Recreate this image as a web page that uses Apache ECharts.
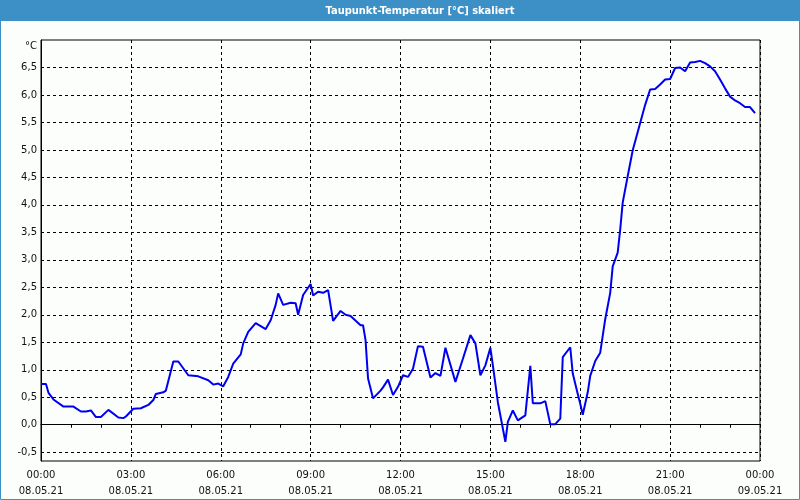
<!DOCTYPE html>
<html>
<head>
<meta charset="utf-8">
<script src="https://cdn.jsdelivr.net/npm/echarts@6/dist/echarts.min.js"></script>
<style>
html,body{margin:0;padding:0;background:#fcfefc;}
#chart{width:800px;height:500px;}
</style>
</head>
<body>
<div id="chart"></div>
<script>
// Minutes since 08.05.21 00:00
var minutes = [0,10,15,25,45,65,80,90,100,110,120,135,155,165,170,185,200,215,225,230,245,250,265,275,295,315,335,345,355,
  365,375,385,400,405,415,430,435,450,460,470,475,485,500,510,515,525,540,545,555,565,575,585,600,610,620,640,645,650,655,665,680,685,695,705,
  715,725,735,745,755,765,780,790,800,810,830,845,860,870,880,890,900,905,915,930,935,945,955,970,980,985,1000,1010,1020,1030,1040,1045,1060,1065,
  1075,1080,1085,1095,1100,1110,1120,1130,1140,1145,1155,1160,1165,1175,1185,1200,1210,1220,1230,1240,1250,1260,1270,1280,1290,1300,1310,1320,1330,1340,1350,1360,1370,1380,1390,1400,1410,1420,1430];
// Dew point temperature [°C]
var values = [0.74,0.74,0.58,0.46,0.33,0.33,0.24,0.24,0.26,0.14,0.14,0.27,0.13,0.12,0.15,0.29,0.30,0.36,0.45,0.56,0.59,0.62,1.15,1.15,0.90,0.88,0.81,0.73,0.75,
  0.70,0.87,1.11,1.28,1.48,1.69,1.85,1.82,1.74,1.90,2.18,2.39,2.18,2.22,2.21,2.00,2.36,2.56,2.35,2.42,2.40,2.45,1.89,2.07,2.00,1.98,1.81,1.81,1.54,0.84,0.48,0.62,0.68,0.82,0.54,
  0.69,0.90,0.87,1.02,1.43,1.42,0.86,0.94,0.89,1.40,0.78,1.20,1.63,1.48,0.90,1.08,1.40,1.08,0.41,-0.31,0.05,0.26,0.08,0.17,1.07,0.39,0.39,0.43,0.01,0.01,0.11,1.23,1.41,0.93,
  0.56,0.38,0.18,0.59,0.89,1.16,1.31,1.92,2.40,2.88,3.13,3.55,4.04,4.52,4.99,5.49,5.82,6.10,6.11,6.19,6.28,6.29,6.49,6.50,6.43,6.59,6.60,6.62,6.58,6.52,6.43,6.28,6.12,5.97,5.90,5.85,5.78,5.78,5.67];
var xTimeLabels = ['00:00','03:00','06:00','09:00','12:00','15:00','18:00','21:00','00:00'];
var xDateLabels = ['08.05.21','08.05.21','08.05.21','08.05.21','08.05.21','08.05.21','08.05.21','08.05.21','09.05.21'];
var yTicks = [-0.5,0,0.5,1,1.5,2,2.5,3,3.5,4,4.5,5,5.5,6,6.5];
var titleText = 'Taupunkt-Temperatur [°C] skaliert';
var unitText = '°C';

var seriesData = minutes.map(function(m,i){ return [m, values[i]]; });
var FONT = 'DejaVu Sans';
var chart = echarts.init(document.getElementById('chart'), null, {renderer:'canvas'});
chart.setOption({
  animation: false,
  backgroundColor: '#fcfefc',
  grid: {left: 41, right: 40, top: 40, bottom: 39, show: true, borderColor: '#000', borderWidth: 1, backgroundColor: 'transparent'},
  xAxis: {
    type: 'value', min: 0, max: 1440, interval: 180,
    axisLine: {show: true, lineStyle: {color: '#000', width: 1}},
    axisTick: {show: true, length: 3, lineStyle: {color: '#000'}},
    minorTick: {show: true, splitNumber: 3, length: 3, lineStyle: {color: '#000'}},
    splitLine: {show: true, lineStyle: {color: '#000', type: [3,3], width: 1}},
    axisLabel: {
      margin: 6, color: '#111', fontFamily: FONT, fontSize: 10, lineHeight: 16,
      formatter: function(v){ var i = Math.round(v/180); return xTimeLabels[i] + '\n' + xDateLabels[i]; }
    }
  },
  yAxis: {
    type: 'value', min: -0.66, max: 7.0,
    axisLine: {show: true, lineStyle: {color: '#000', width: 1}},
    axisTick: {show: false, customValues: yTicks},
    splitLine: {show: true, lineStyle: {color: '#000', type: [3,3], width: 1}},
    axisLabel: {
      customValues: yTicks, margin: 4, color: '#111', fontFamily: FONT, fontSize: 10,
      formatter: function(v){ return v.toFixed(1).replace('.', ','); }
    }
  },
  series: [{
    type: 'line', data: seriesData, showSymbol: false, symbol: 'none',
    lineStyle: {color: '#0000f0', width: 2}, z: 3
  }],
  graphic: [
    {type: 'rect', shape: {x: 0, y: 0, width: 800, height: 21}, style: {fill: '#3d90c5'}, z: 10},
    {type: 'text', x: 420, y: 11, style: {text: titleText, fill: '#fff', font: 'bold 11px "DejaVu Sans Condensed"', align: 'center', verticalAlign: 'middle'}, z: 11},
    {type: 'rect', shape: {x: 0.5, y: 0.5, width: 799, height: 499}, style: {fill: null, stroke: '#3d90c5', lineWidth: 1}, z: 10},
    {type: 'text', x: 37, y: 46, style: {text: unitText, fill: '#111', font: '10px "DejaVu Sans"', align: 'right', verticalAlign: 'middle'}, z: 11}
  ]
});
</script>
</body>
</html>
